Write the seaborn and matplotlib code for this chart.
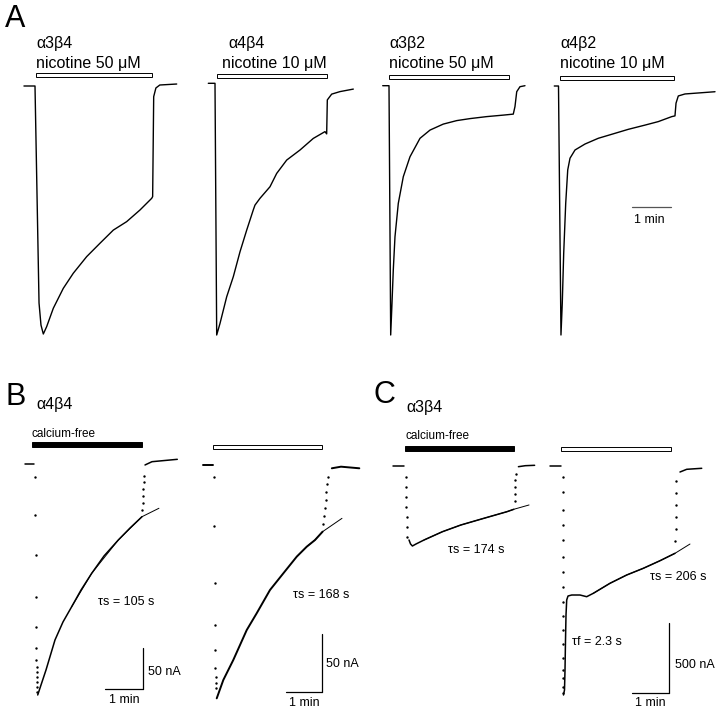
# Nicotinic receptor currents (oocyte recordings) - panels A, B, C
# Traces; time in s, current normalised (A) or in nA (B, C).

import pandas as pd
import matplotlib
matplotlib.use('Agg')
import matplotlib.pyplot as plt
import seaborn as sns
from matplotlib.patches import Rectangle

# --- data: panel A (normalised to the peak) ---
a3b4_t = [-17, 0, 6.2, 9.2, 12.8, 18, 28.2, 43.5, 58.9, 79.5, 100, 120.5, 141, 161.5, 179.5,
          181, 182.6, 186, 192, 218]
a3b4_i = [0, 0, -0.875, -0.964, -1.0, -0.97, -0.896, -0.816, -0.755, -0.688, -0.634, -0.581,
          -0.547, -0.5, -0.453, -0.446, -0.043, -0.008, 0.004, 0.008]

a4b4_t = [-10.3, 0, 2.6, 7.7, 18, 28.2, 38.5, 48.8, 58.9, 61.5, 69.2, 84.6, 94.9, 110.3, 130.8,
          151.2, 169.2, 171.8, 172.8, 179.5, 192.3, 212.8]
a4b4_i = [0, 0, -1, -0.954, -0.848, -0.768, -0.669, -0.583, -0.503, -0.484, -0.457, -0.411,
          -0.358, -0.305, -0.265, -0.219, -0.192, -0.201, -0.066, -0.043, -0.033, -0.023]

a3b2_t = [-9.7, 0, 2.6, 4.6, 6.6, 9.2, 14.3, 22, 32.3, 47.7, 63.1, 83.5, 104.2, 124.6, 150.3,
          175.8, 191.2, 193.8, 196.5, 201.5, 209.2]
a3b2_i = [0, 0, -1, -0.873, -0.739, -0.606, -0.472, -0.365, -0.285, -0.211, -0.178, -0.154,
          -0.140, -0.132, -0.124, -0.118, -0.114, -0.084, -0.024, -0.004, 0]

a4b2_t = [-6.5, 0, 3.8, 5.8, 8, 11.1, 14.2, 17.7, 25.4, 40.8, 61.2, 81.8, 107.4, 133.1, 153.5,
          174.2, 179.2, 180.8, 184.3, 194.6, 220.3, 240.8]
a4b2_i = [0, 0, -1, -0.873, -0.672, -0.471, -0.337, -0.290, -0.257, -0.233, -0.210, -0.194,
          -0.174, -0.157, -0.143, -0.123, -0.120, -0.069, -0.040, -0.032, -0.027, -0.023]

a_subunits = ['α3β4', 'α4β4', 'α3β2', 'α4β2']
a_agonist = ['nicotine 50 μM', 'nicotine 10 μM', 'nicotine 50 μM', 'nicotine 10 μM']
a_bar_on = [1.5, 3.5, 0.5, 2.3]
a_bar_off = [180, 172.8, 185, 178.2]

# --- data: panel B, α4β4 (nA) ---
b1_t = [-10.6, 3.6,
        5.5, 5.8, 6.1, 6.4, 6.7, 7.0, 7.3, 7.6, 7.9, 8.2, 8.5, 8.8, 9.1,
        9.5, 14.7, 22.6, 36.8, 49.4, 63.2, 77.9, 94.8, 114.2, 136.8, 155.3, 174.2,
        174.7, 175.2, 175.7, 176.2, 176.7, 177.2,
        179, 190, 230]
b1_i = [0, 0,
        -16.5, -62.8, -111.6, -162.8, -199.4, -225, -239.6, -248.2, -254.3, -260.4, -266.5, -272.6, -278.7,
        -282.3, -270.1, -251.8, -215.2, -193.3, -174.6, -154.3, -133.9, -112.8, -93.3, -78.7, -64.9,
        -56.7, -48.2, -39.6, -31.1, -22.6, -15.2,
        -1.8, 2.2, 5.1]
b1_phase = ['rest'] * 2 + ['on'] * 13 + ['decay'] * 12 + ['off'] * 6 + ['wash'] * 3
b1_fit_t = [63.2, 94.8, 136.8, 174.2, 201]
b1_fit_i = [-174.6, -133.9, -93.3, -64.9, -54.6]

b2_t = [-16.9, 0,
        1.0, 1.5, 2.0, 2.5, 3.0, 3.4, 3.8, 4.2, 4.6,
        5.6, 16.4, 32.7, 54.7, 71, 92.8, 114.6, 136.5, 152.9, 166.4, 178.9,
        180, 181.3, 182.6, 183.9, 185.2, 186.5, 187.8,
        194, 209, 239]
b2_i = [0, 0,
        -10.9, -53.6, -103.2, -139.5, -161.6, -177.3, -185.1, -190.4, -194.7,
        -203.7, -187.7, -170.3, -144.2, -129.6, -109.3, -94.8, -80.3, -71.6, -65.8, -58.5,
        -51.8, -44.9, -37.9, -30.9, -24, -17, -10.9,
        -3.3, -1.9, -3.3]
b2_phase = ['rest'] * 2 + ['on'] * 9 + ['decay'] * 11 + ['off'] * 7 + ['wash'] * 3
b2_fit_t = [136.5, 152.9, 166.4, 178.9, 210.6]
b2_fit_i = [-80.3, -71.6, -65.8, -58.5, -46.9]

# --- data: panel C, α3β4 (nA) ---
c1_t = [-18.6, -1.6,
        1.1, 1.5, 1.9, 2.3, 2.7, 3.1, 3.5,
        6.4, 8.8, 11.8, 17.5, 30.3, 59.6, 88.9, 125.6, 162.3, 173.2,
        174.4, 174.8, 175.2, 175.6, 176,
        180.6, 191.6, 206.4]
c1_i = [0, 0,
        -77, -149, -221, -293, -366, -438, -510,
        -533.5, -562, -576.8, -562.4, -533.5, -473.7, -425.4, -377.1, -329.5, -312.2,
        -252.3, -201.9, -151.4, -100.9, -57.7,
        -5, 2.2, 5]
c1_phase = ['rest'] * 2 + ['on'] * 7 + ['decay'] * 10 + ['off'] * 5 + ['wash'] * 3
c1_fit_t = [30.3, 59.6, 88.9, 125.6, 162.3, 173.2, 197.5]
c1_fit_i = [-533.5, -473.7, -425.4, -377.1, -329.5, -312.2, -281]

c2_t = [-18, 0,
        2.2, 2.3, 2.4, 2.5, 2.6, 2.7, 2.8, 2.9, 3.0, 3.05, 3.1, 3.15, 3.2, 3.25, 3.3, 3.35, 3.4,
        3.5, 5.1, 5.9, 6.7, 7.5, 8.6, 10.7, 16.6, 29.8, 40.4, 51, 77.5, 104.1, 130.6, 157.2, 181.1,
        181.5, 181.9, 182.3, 182.7, 183.1, 183.4,
        189, 199.7, 223.6]
c2_i = [0, 0,
        -73.5, -181.7, -313.6, -421.8, -529.9, -650.3, -758.5, -866.6, -974.8, -1077.9, -1178.8,
        -1279.7, -1382.9, -1467.2, -1527, -1587.6, -1635.2,
        -1647.4, -1611, -1467, -1251, -1071, -962.5, -933.7, -926.5, -926.5, -938.7, -914.2,
        -842.1, -782.3, -734, -679.2, -625.8,
        -537, -450.6, -364.1, -277.6, -191, -104.5,
        -39.7, -20.2, -13]
c2_phase = ['rest'] * 2 + ['on'] * 17 + ['decay'] * 16 + ['off'] * 6 + ['wash'] * 3
c2_fit_t = [51, 77.5, 104.1, 130.6, 157.2, 181.1, 204.9]
c2_fit_i = [-914.2, -842.1, -782.3, -734, -679.2, -625.8, -559]

bc_bar_on = [0, 0, 0, 0]
bc_bar_off = [173.8, 178.4, 174.1, 174.2]
tau_labels = ['τs = 105 s', 'τs = 168 s', 'τs = 174 s', 'τs = 206 s']

# --- figure set-up ---
W, H = 720, 712
sns.set_theme(style='white', context='paper')
plt.rcParams['font.family'] = ['Liberation Sans', 'DejaVu Sans']
fig = plt.figure(figsize=(W / 100, H / 100), dpi=100)


def ftext(x, y, s, size=9, **kw):
    # place text at a pixel position of the figure
    fig.text(x / W, 1 - y / H, s, fontsize=size, color='black', **kw)


def trace_axes(geo, t_lim, i_lim):
    # geo = (x px of t=0, y px of zero current, px per s, px per unit current)
    x0, y0, sx, sy = geo
    left, right = x0 + t_lim[0] * sx, x0 + t_lim[1] * sx
    top, bottom = y0 - i_lim[1] * sy, y0 - i_lim[0] * sy
    ax = fig.add_axes([left / W, 1 - bottom / H, (right - left) / W, (bottom - top) / H])
    ax.set_xlim(t_lim)
    ax.set_ylim(i_lim)
    ax.axis('off')
    return ax


def drug_bar(ax, geo, t0, t1, top_px, h_px, filled):
    x0, y0, sx, sy = geo
    ax.add_patch(Rectangle((t0, (y0 - top_px - h_px) / sy), t1 - t0, h_px / sy,
                           fc='black' if filled else 'white', ec='black', lw=0.7, clip_on=False))


def scale_bar(ax, t0, i0, dt, di, color='black'):
    ax.plot([t0, t0 + dt], [i0, i0], color=color, lw=0.9, clip_on=False)
    if di:
        ax.plot([t0 + dt, t0 + dt], [i0, i0 + di], color=color, lw=0.9, clip_on=False)


# --- panel A ---
a_geo = [(35, 86, 0.65, 248), (215, 83.3, 0.65, 251.7), (389, 85.7, 0.65, 249.3), (558.5, 86, 0.65, 249)]
a_traces = [(a3b4_t, a3b4_i), (a4b4_t, a4b4_i), (a3b2_t, a3b2_i), (a4b2_t, a4b2_i)]
a_label_x = [36, 228, 389, 560]
a_agonist_x = [36, 222.5, 389, 560]
a_bar_top = [73.3, 74, 75.3, 76.3]

ftext(5, 27, 'A', size=22, va='baseline')
for k in range(4):
    ax = trace_axes(a_geo[k], (-20, 245), (-1.05, 0.12))
    sns.lineplot(x=a_traces[k][0], y=a_traces[k][1], ax=ax, sort=False, estimator=None,
                 color='black', lw=1.0)
    drug_bar(ax, a_geo[k], a_bar_on[k], a_bar_off[k], a_bar_top[k], 4, False)
    ftext(a_label_x[k], 48, a_subunits[k], size=11.5, va='baseline')
    ftext(a_agonist_x[k], 68, a_agonist[k], size=11.5, va='baseline')
    if k == 3:
        scale_bar(ax, 112.6, -0.485, 60, 0, color='#555555')
        ftext(649, 223, '1 min', size=9, ha='center', va='baseline')

# --- panels B and C ---
bc_geo = [(31.7, 463.5, 0.633, 0.82), (213.3, 464.5, 0.611, 1.148),
          (405, 466, 0.628, 0.1387), (561.3, 466.5, 0.628, 0.1387)]
bc_traces = [(b1_t, b1_i, b1_phase, b1_fit_t, b1_fit_i),
             (b2_t, b2_i, b2_phase, b2_fit_t, b2_fit_i),
             (c1_t, c1_i, c1_phase, c1_fit_t, c1_fit_i),
             (c2_t, c2_i, c2_phase, c2_fit_t, c2_fit_i)]
bc_ilim = [(-300, 40), (-215, 40), (-1700, 250), (-1700, 250)]
bc_bar_top = [442.3, 445.3, 446, 447]
bc_bar_fill = [True, False, True, False]
bc_lw = [1.1, 1.4, 1.1, 1.1]
tau_pos = [(97.7, 601.7), (293.3, 595), (448, 550), (650, 576.7)]

for k in range(4):
    t, i, phase, ft, fi = bc_traces[k]
    geo = bc_geo[k]
    ax = trace_axes(geo, (-25, 245), bc_ilim[k])
    df = pd.DataFrame({'t': t, 'i': i, 'phase': phase})
    solid = df[df['phase'].isin(['rest', 'decay', 'wash'])]
    dots = df[df['phase'].isin(['on', 'off'])]
    sns.lineplot(data=solid, x='t', y='i', units='phase', estimator=None, sort=False,
                 color='black', lw=bc_lw[k], ax=ax)
    sns.scatterplot(data=dots, x='t', y='i', s=3, color='black', linewidth=0, ax=ax)
    sns.lineplot(x=ft, y=fi, ax=ax, sort=False, estimator=None, color='black', lw=0.7)
    drug_bar(ax, geo, bc_bar_on[k], bc_bar_off[k], bc_bar_top[k], 4.5 if bc_bar_fill[k] else 4,
             bc_bar_fill[k])
    ftext(tau_pos[k][0], tau_pos[k][1], tau_labels[k], size=9, va='center')
    if k == 0:
        scale_bar(ax, 116.3, -275.4, 60, 50)
    elif k == 1:
        scale_bar(ax, 118.5, -197.9, 60, 50)
    elif k == 3:
        scale_bar(ax, 112.1, -1630.9, 60, 500)

ftext(5, 405, 'B', size=22, va='baseline')
ftext(36, 409, 'α4β4', size=11.5, va='baseline')
ftext(32, 437, 'calcium-free', size=8.5, va='baseline')
ftext(147.7, 671.7, '50 nA', size=9, va='center')
ftext(124.7, 700, '1 min', size=9, ha='center', va='center')
ftext(326, 664, '50 nA', size=9, va='center')
ftext(304, 703.3, '1 min', size=9, ha='center', va='center')

ftext(373, 403, 'C', size=22, va='baseline')
ftext(406.7, 412, 'α3β4', size=11.5, va='baseline')
ftext(406, 439, 'calcium-free', size=8.5, va='baseline')
ftext(571.7, 641.7, 'τf = 2.3 s', size=9, va='center')
ftext(675, 665, '500 nA', size=9, va='center')
ftext(650.7, 703.3, '1 min', size=9, ha='center', va='center')

fig.savefig('out.png', dpi=100, facecolor='white')
